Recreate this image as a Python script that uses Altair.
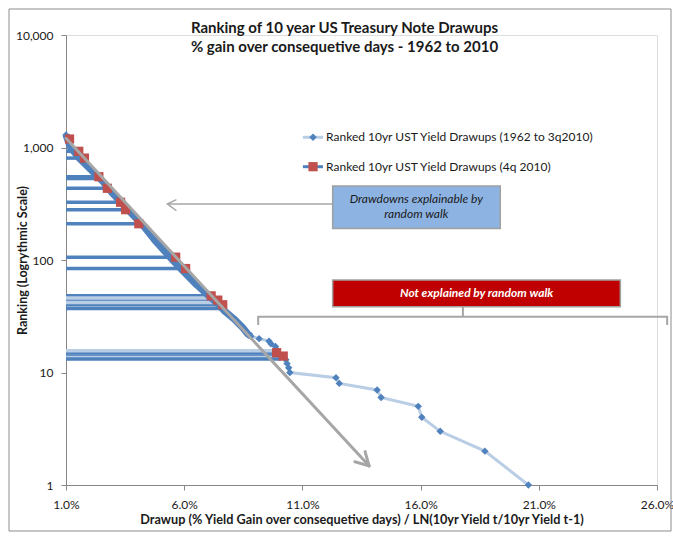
import altair as alt
import pandas as pd

# ---- data -------------------------------------------------------------
# Ranked 10yr UST yield drawups, 1962 to 3q2010: rank and drawup (%)
s1_rank = [1290, 1000, 800, 600, 500, 400, 300, 200, 150, 120, 100, 80, 60, 50,
           40, 35, 30, 25, 22, 21,
           20, 19, 18, 17, 16, 15, 14, 13, 12, 11, 10, 9, 8, 7, 6, 5, 4, 3, 2, 1]
s1_drawup = [1.00, 1.19, 1.57, 2.17, 2.55, 2.93, 3.48, 4.28, 4.75, 5.17, 5.51, 5.94, 6.53, 6.95,
             7.46, 7.72, 8.10, 8.48, 8.69, 8.82,
             9.17, 9.59, 9.67, 9.86, 9.90, 9.93, 10.20, 10.30, 10.35, 10.42, 10.47,
             12.42, 12.56, 14.16, 14.33, 15.90, 16.05, 16.83, 18.72, 20.56]

# Ranked 10yr UST yield drawups, 4q 2010: rank and drawup (%)
s2_rank = [1190, 925, 805, 550, 434, 326, 280, 210, 106, 84, 48, 44, 40, 15, 14]
s2_drawup = [1.15, 1.54, 1.78, 2.39, 2.75, 3.31, 3.52, 4.08, 5.64, 6.06, 7.14, 7.42, 7.63, 9.91, 10.19]

# extra rank rows that run back to the axis (series tone: dark / light)
extra_rank = [530, 46, 42, 37, 15.6, 13.6, 13.2]
extra_drawup = [2.30, 7.20, 7.40, 7.70, 9.95, 10.05, 10.10]
extra_tone = ["dark", "light", "light", "dark", "light", "light", "dark"]

x_ticks = [1, 6, 11, 16, 21, 26]
y_ticks = [1, 10, 100, 1000, 10000]

DARK = "#4f81bd"
LIGHT = "#b9cde5"
RED = "#c0504d"
GREY = "#a6a6a6"
FONT = "Lato"

# ---- tables ------------------------------------------------------------
s1 = pd.DataFrame({"drawup": s1_drawup, "rank": s1_rank})
band = s1[s1["rank"] >= 21]
s2 = pd.DataFrame({"drawup": s2_drawup, "rank": s2_rank})

rows = pd.DataFrame({
    "start": [1.0] * (len(s2_rank) + len(extra_rank)),
    "drawup": s2_drawup + extra_drawup,
    "rank": s2_rank + extra_rank,
    "tone": ["dark"] * len(s2_rank) + extra_tone,
})

xs = alt.Scale(domain=[1, 26], nice=False, zero=False)
ys = alt.Scale(type="log", domain=[1, 10000], nice=False)


def X(field="drawup", axis=False):
    if axis:
        return alt.X(
            field, type="quantitative", scale=xs,
            axis=alt.Axis(
                values=x_ticks, labelExpr="format(datum.value / 100, '.1%')",
                labelFlush=False, labelOverlap=False,
                title="Drawup (% Yield Gain over consequetive days) / LN(10yr Yield t/10yr Yield t-1)",
                titleX=295.5, titleY=34, titleBaseline="middle", titleAlign="center",
                grid=False, domainColor="#868686", tickColor="#868686", tickSize=5,
                labelPadding=9, labelFont=FONT, labelFontSize=12, labelColor="#1a1a1a",
                titleFont=FONT, titleFontSize=12.7, titleFontWeight="bold", titleColor="#1a1a1a",
            ),
        )
    return alt.X(field, type="quantitative", scale=xs)


def Y(field="rank", axis=False):
    if axis:
        return alt.Y(
            field, type="quantitative", scale=ys,
            axis=alt.Axis(
                values=y_ticks, format=",", labelFlush=False, labelOverlap=False,
                title="Ranking (Logrythmic Scale)",
                titleX=-44, titleY=225, titleBaseline="middle", titleAlign="center", titleAngle=270,
                grid=False, domainColor="#868686", tickColor="#868686", tickSize=5,
                labelPadding=8, labelFont=FONT, labelFontSize=12, labelColor="#1a1a1a",
                titleFont=FONT, titleFontSize=12.5, titleFontWeight="bold", titleColor="#1a1a1a",
            ),
        )
    return alt.Y(field, type="quantitative", scale=ys)


# ---- series ------------------------------------------------------------
s1_line = alt.Chart(s1).mark_line(color=LIGHT, strokeWidth=3).encode(
    x=X(axis=True), y=Y(axis=True), order="rank:Q")

rank_rows = alt.Chart(rows).mark_rule(strokeWidth=3.5).encode(
    x=X("start"), x2="drawup", y=Y(),
    color=alt.Color("tone:N", scale=alt.Scale(domain=["dark", "light"], range=[DARK, LIGHT]),
                    legend=None))

band_line = alt.Chart(band).mark_line(color=DARK, strokeWidth=7, strokeJoin="round").encode(
    x=X(), y=Y(), order="rank:Q")

s1_pts = alt.Chart(s1).mark_point(shape="diamond", filled=True, color=DARK, size=55, opacity=1).encode(
    x=X(), y=Y())

s2_pts = alt.Chart(s2).mark_point(shape="square", filled=True, color=RED, size=85, opacity=1).encode(
    x=X(), y=Y())

# ---- annotations (drawup %, rank) --------------------------------------
trend = pd.DataFrame({
    "g": ["shaft", "shaft", "a", "a", "b", "b"],
    "o": [0, 1, 0, 1, 0, 1],
    "drawup": [1.0, 13.82, 13.22, 13.82, 13.65, 13.82],
    "rank": [1208, 1.48, 1.61, 1.48, 1.98, 1.48],
})
trend_arrow = alt.Chart(trend).mark_line(color=GREY, strokeWidth=3, strokeCap="round").encode(
    x=X(), y=Y(), detail="g:N", order="o:Q")

pointer = pd.DataFrame({
    "g": ["shaft", "shaft", "head", "head", "head"],
    "o": [0, 1, 0, 1, 2],
    "drawup": [12.28, 5.29, 5.67, 5.29, 5.67],
    "rank": [315, 315, 344, 315, 274],
})
pointer_arrow = alt.Chart(pointer).mark_line(color=GREY, strokeWidth=1.5).encode(
    x=X(), y=Y(), detail="g:N", order="o:Q")

bracket = pd.DataFrame({
    "g": ["span"] * 4 + ["stem"] * 2,
    "o": [0, 1, 2, 3, 0, 1],
    "drawup": [9.13, 9.13, 26.43, 26.43, 17.79, 17.79],
    "rank": [26.4, 31.3, 31.3, 26.4, 31.3, 38.5],
})
bracket_line = alt.Chart(bracket).mark_line(color=GREY, strokeWidth=2, clip=False).encode(
    x=X(), y=Y(), detail="g:N", order="o:Q")

boxes = pd.DataFrame({
    "x1": [12.28, 12.28], "x2": [19.37, 24.45],
    "y1": [455, 66.4], "y2": [191, 38.5],
    "fill": ["#8db3e2", "#c00000"],
})
box_rects = alt.Chart(boxes).mark_rect(stroke="#a0a0a0", strokeWidth=1.5).encode(
    x=X("x1"), x2="x2", y=Y("y1"), y2="y2",
    fill=alt.Fill("fill:N", scale=None))

box_text = pd.DataFrame({
    "drawup": [15.82, 15.82, 18.37],
    "rank": [349, 256, 50.9],
    "label": ["Drawdowns explainable by", "random walk", "Not explained by random walk"],
    "tc": ["#1a1a1a", "#1a1a1a", "#ffffff"],
})
box_labels_dark = alt.Chart(box_text[box_text["tc"] != "#ffffff"]).mark_text(
    font=FONT, fontSize=12, fontStyle="italic", color="#1a1a1a", align="center", baseline="middle"
).encode(x=X(), y=Y(), text="label:N")
box_labels_light = alt.Chart(box_text[box_text["tc"] == "#ffffff"]).mark_text(
    font=FONT, fontSize=12, fontStyle="italic", fontWeight="bold", color="#ffffff",
    align="center", baseline="middle"
).encode(x=X(), y=Y(), text="label:N")

# legend drawn in data space
leg_line = pd.DataFrame({
    "g": ["s1", "s1", "s2", "s2"],
    "drawup": [11.02, 11.87, 11.02, 11.87],
    "rank": [1233, 1233, 675, 675],
    "tone": ["light", "light", "dark", "dark"],
})
legend_lines = alt.Chart(leg_line).mark_line(strokeWidth=3).encode(
    x=X(), y=Y(), detail="g:N",
    color=alt.Color("tone:N", scale=alt.Scale(domain=["dark", "light"], range=[DARK, LIGHT]),
                    legend=None))
legend_diamond = alt.Chart(pd.DataFrame({"drawup": [11.45], "rank": [1233]})).mark_point(
    shape="diamond", filled=True, color=DARK, size=55, opacity=1).encode(x=X(), y=Y())
legend_square = alt.Chart(pd.DataFrame({"drawup": [11.45], "rank": [675]})).mark_point(
    shape="square", filled=True, color=RED, size=85, opacity=1).encode(x=X(), y=Y())
legend_text = alt.Chart(pd.DataFrame({
    "drawup": [12.0, 12.0], "rank": [1233, 675],
    "label": ["Ranked 10yr UST Yield Drawups (1962 to 3q2010)",
              "Ranked 10yr UST Yield Drawups (4q 2010)"],
})).mark_text(font=FONT, fontSize=12, color="#1a1a1a", align="left", baseline="middle").encode(
    x=X(), y=Y(), text="label:N")

# chart frame
frame = alt.Chart(pd.DataFrame({"k": [0]})).mark_rect(
    fill=None, stroke="#8c8c8c", strokeWidth=1, clip=False
).encode(x=alt.value(-57), x2=alt.value(605), y=alt.value(-26), y2=alt.value(496))

chart = alt.layer(
    s1_line, rank_rows, band_line, s1_pts, s2_pts, trend_arrow,
    pointer_arrow, bracket_line, box_rects, box_labels_dark, box_labels_light,
    legend_lines, legend_diamond, legend_square, legend_text, frame,
).properties(
    width=591, height=450,
    title=alt.TitleParams(
        text=["Ranking of  10 year US Treasury Note Drawups",
              "% gain over consequetive days - 1962 to 2010"],
        font=FONT, fontSize=15, fontWeight="bold", color="#1a1a1a",
        anchor="middle", dx=-17, dy=29, offset=-17, lineHeight=19,
    ),
    autosize=alt.AutoSizeParams(type="none"),
    padding={"left": 66, "top": 35, "right": 16, "bottom": 56},
).configure_view(stroke=None).configure(background="white")

chart.save("out.html", embed_options={"renderer": "svg", "actions": False})
